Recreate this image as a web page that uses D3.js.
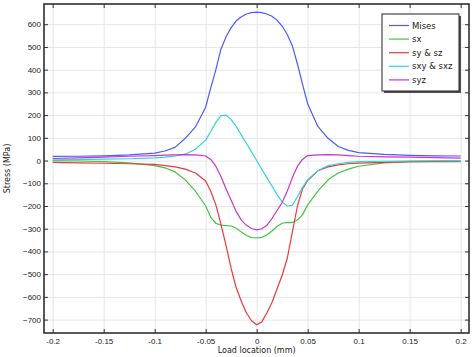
<!DOCTYPE html>
<html>
<head>
<meta charset="utf-8">
<script src="https://cdn.jsdelivr.net/npm/d3@7/dist/d3.min.js"></script>
<style>
html,body{margin:0;padding:0;background:#fff;}
svg{display:block;font-family:"DejaVu Sans",sans-serif;}
</style>
</head>
<body>
<svg id="chart" width="474" height="357"></svg>
<script>
const loadLocation = [-0.2,-0.175,-0.15,-0.125,-0.1,-0.09,-0.08,-0.07,-0.06,-0.05,-0.045,-0.04,-0.035,-0.03,-0.025,-0.02,-0.015,-0.01,-0.005,0,
  0.005,0.01,0.015,0.02,0.025,0.03,0.035,0.04,0.045,0.05,0.06,0.07,0.08,0.09,0.1,0.125,0.15,0.175,0.2];
const mises = [18,19,21,25,33,42,58,98,148,235,320,400,490,545,585,615,633,645,651,653,
  651,645,635,618,592,555,505,425,335,250,150,98,62,45,35,27,23,21,20];
const sx = [0,-2,-5,-10,-22,-32,-50,-85,-135,-200,-250,-276,-284,-286,-288,-298,-315,-330,-339,-341,
  -338,-328,-310,-290,-276,-272,-273,-262,-238,-195,-135,-85,-55,-38,-25,-10,-4,-2,-1];
const sySz = [-8,-10,-12,-14,-17,-22,-28,-38,-55,-90,-135,-195,-280,-374,-475,-560,-620,-671,-705,-723,
  -710,-671,-625,-565,-505,-430,-315,-200,-125,-88,-45,-28,-19,-14,-11,-8,-6,-5,-5];
const sxySxz = [3,4,6,8,12,15,20,28,50,90,128,168,198,200,180,150,112,75,38,0,
  -38,-75,-112,-150,-182,-200,-197,-160,-118,-85,-45,-22,-14,-8,-5,-3,-2,-1,-1];
const syz = [9,12,15,19,22,24,25,26,25,20,5,-25,-70,-125,-175,-225,-262,-285,-299,-305,
  -300,-285,-255,-220,-185,-135,-75,-25,5,22,25,26,25,22,19,16,15,13,11];
const seriesNames = ["Mises","sx","sy & sz","sxy & sxz","syz"];
const seriesColors = ["#4a5cff","#44c444","#e83a3a","#2fd4dc","#cc35cc"];
const seriesValues = [mises, sx, sySz, sxySxz, syz];
const xTicks = [-0.2,-0.15,-0.1,-0.05,0,0.05,0.1,0.15,0.2];
const xTickLabels = ["-0.2","-0.15","-0.1","-0.05","0","0.05","0.1","0.15","0.2"];
const yTicks = [-700,-600,-500,-400,-300,-200,-100,0,100,200,300,400,500,600];
const xTitle = "Load location (mm)";
const yTitle = "Stress (MPa)";

const W = 474, H = 357;
const m = {left:44, top:4, right:5, bottom:24};
const w = W - m.left - m.right, h = H - m.top - m.bottom;
const svg = d3.select("#chart");
const g = svg.append("g").attr("transform",`translate(${m.left},${m.top})`);
const x = d3.scaleLinear().domain([-0.2085,0.2082]).range([0,w]);
const y = d3.scaleLinear().domain([-759,689]).range([h,0]);

// grid
g.append("g").attr("transform",`translate(0,${h})`)
  .call(d3.axisBottom(x).tickValues(xTicks).tickSize(-h).tickFormat(""))
  .call(a=>{a.select(".domain").remove();a.selectAll("line").attr("stroke","#e6e6e6");});
g.append("g")
  .call(d3.axisLeft(y).tickValues(yTicks).tickSize(-w).tickFormat(""))
  .call(a=>{a.select(".domain").remove();a.selectAll("line").attr("stroke","#e6e6e6");});

// lines
const line = d3.line().x((d,i)=>x(loadLocation[i])).y(d=>y(d));
seriesValues.forEach((vals,k)=>{
  g.append("path").datum(vals).attr("d",line).attr("fill","none")
   .attr("stroke",seriesColors[k]).attr("stroke-width",1.2).attr("stroke-linejoin","round");
});

// axes
const styleAxis = a=>{a.select(".domain").remove();a.selectAll("line").attr("stroke","#333");
  a.selectAll("text").attr("fill","#222").style("font-size","8px");};
g.append("g").attr("transform",`translate(0,${h})`)
  .call(d3.axisBottom(x).tickValues(xTicks).tickSize(-4).tickPadding(5).tickFormat((d,i)=>xTickLabels[i]))
  .call(styleAxis);
g.append("g")
  .call(d3.axisLeft(y).tickValues(yTicks).tickSize(-4).tickPadding(3).tickFormat(d3.format("d")))
  .call(styleAxis);
g.append("g")
  .call(d3.axisTop(x).tickValues(xTicks).tickSize(-4).tickFormat(""))
  .call(styleAxis);
g.append("g").attr("transform",`translate(${w},0)`)
  .call(d3.axisRight(y).tickValues(yTicks).tickSize(-4).tickFormat(""))
  .call(styleAxis);
g.append("rect").attr("width",w).attr("height",h).attr("fill","none")
  .attr("stroke","#222").attr("stroke-width",1.5);

// titles
svg.append("text").attr("x",m.left + x(0)).attr("y",353).attr("text-anchor","middle")
  .style("font-size","8px").attr("fill","#222").text(xTitle);
svg.append("text").attr("transform",`translate(10,${m.top+h/2}) rotate(-90)`)
  .attr("text-anchor","middle").style("font-size","8px").attr("fill","#222").text(yTitle);

// legend
const lg = svg.append("g").attr("transform","translate(382,14)");
lg.append("rect").attr("x",2).attr("y",2).attr("width",77).attr("height",77).attr("fill","#555");
lg.append("rect").attr("width",77).attr("height",77).attr("fill","#fff").attr("stroke","#222").attr("stroke-width",1);
seriesNames.forEach((nm,k)=>{
  const yy = 11.5 + k*13.6;
  lg.append("line").attr("x1",7).attr("x2",27).attr("y1",yy).attr("y2",yy)
    .attr("stroke",seriesColors[k]).attr("stroke-width",1.2);
  lg.append("text").attr("x",30).attr("y",yy+3).style("font-size","8.5px").attr("fill","#222").text(nm);
});
</script>
</body>
</html>
